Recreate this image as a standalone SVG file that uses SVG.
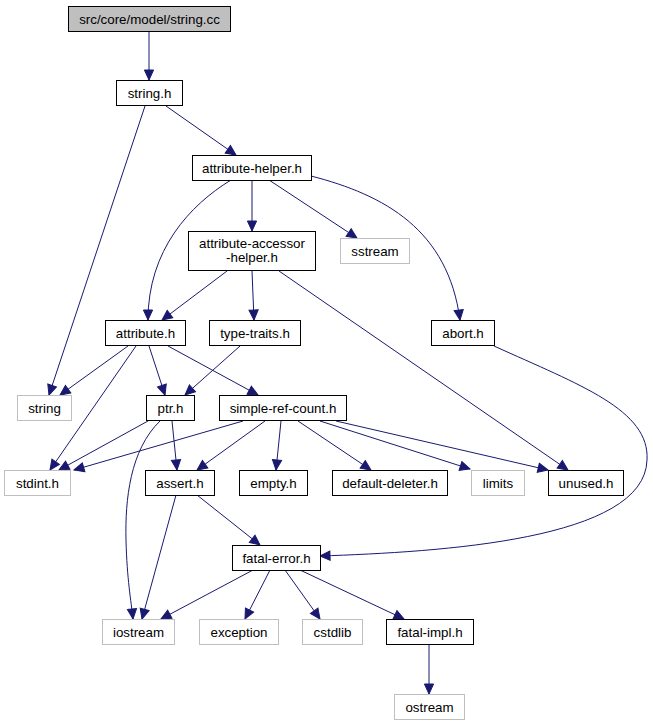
<svg xmlns="http://www.w3.org/2000/svg" width="653" height="725" viewBox="0 0 653 725">
<style>
.n rect{fill:#ffffff;stroke:#000000;stroke-width:1}
.n.ext rect{stroke:#bfbfbf}
.n.root rect{fill:#bfbfbf}
.n text{font-family:"Liberation Sans",Arial,sans-serif;font-size:13.33px;fill:#000000;text-anchor:middle}
#edges path{fill:none;stroke:#191970;stroke-width:1;marker-end:url(#ah)}
</style>
<defs>
<marker id="ah" markerUnits="userSpaceOnUse" markerWidth="13" markerHeight="12" viewBox="-1 -6 13 12" refX="10" refY="0" orient="auto">
<path d="M0,-4.6 L10,0 L0,4.6 z" fill="#191970" stroke="#191970" stroke-width="1"/>
</marker>
</defs>
<rect width="653" height="725" fill="#ffffff"/>
<g id="edges">
<path d="M149,31 L149,80"/>
<path d="M166,106 L236,155"/>
<path d="M145,106 L49,395"/>
<path d="M252,180 L252,231"/>
<path d="M231,180 C190,205 148,250 148,320"/>
<path d="M269,180 L357,238"/>
<path d="M311,176 C385,195 448,230 460,320"/>
<path d="M227,271 L162,320"/>
<path d="M252,271 L254,320"/>
<path d="M279,271 L568,470"/>
<path d="M128,346 L60,395"/>
<path d="M136,346 L50,470"/>
<path d="M149,346 L165,395"/>
<path d="M168,346 L258,395"/>
<path d="M240,346 L185,395"/>
<path d="M148,421 L59,470"/>
<path d="M172,421 L177,470"/>
<path d="M160,421 C130,450 125,500 126,540 C127,580 131,600 133,619"/>
<path d="M243,421 L74,470"/>
<path d="M265,421 L197,470"/>
<path d="M281,421 L276,470"/>
<path d="M298,421 L371,470"/>
<path d="M320,421 L470,469"/>
<path d="M336,421 L548,470"/>
<path d="M494,346 C580,385 650,410 647,460 C645,540 440,552 320,556"/>
<path d="M197,495 L260,545"/>
<path d="M176,495 L142,619"/>
<path d="M253,570 L161,619"/>
<path d="M270,570 L245,619"/>
<path d="M285,570 L320,619"/>
<path d="M300,570 L404,619"/>
<path d="M429,644 L429,694"/>
</g>
<g id="n_root" class="n root"><rect x="68.5" y="6.5" width="162" height="25"/><text x="149.5" y="23.5">src/core/model/string.cc</text></g>
<g id="n_string_h" class="n"><rect x="116.5" y="80.5" width="66" height="25"/><text x="149.5" y="97.5">string.h</text></g>
<g id="n_attribute_helper" class="n"><rect x="192.5" y="155.5" width="119" height="25"/><text x="252" y="172.5">attribute-helper.h</text></g>
<g id="n_attribute_accessor_helper" class="n"><rect x="188.5" y="231.5" width="127" height="39"/><text x="252" y="248">attribute-accessor</text><text x="252" y="262">-helper.h</text></g>
<g id="n_attribute_h" class="n"><rect x="105.5" y="320.5" width="80" height="25"/><text x="145.5" y="337.5">attribute.h</text></g>
<g id="n_type_traits" class="n"><rect x="209.5" y="320.5" width="91" height="25"/><text x="255" y="337.5">type-traits.h</text></g>
<g id="n_sstream" class="n ext"><rect x="340.5" y="238.5" width="69" height="25"/><text x="375" y="255.5">sstream</text></g>
<g id="n_abort" class="n"><rect x="431.5" y="320.5" width="63" height="25"/><text x="463" y="337.5">abort.h</text></g>
<g id="n_string" class="n ext"><rect x="17.5" y="395.5" width="54" height="25"/><text x="44.5" y="412.5">string</text></g>
<g id="n_ptr" class="n"><rect x="146.5" y="395.5" width="48" height="25"/><text x="170.5" y="412.5">ptr.h</text></g>
<g id="n_simple_ref_count" class="n"><rect x="219.5" y="395.5" width="127" height="25"/><text x="283" y="412.5">simple-ref-count.h</text></g>
<g id="n_stdint" class="n ext"><rect x="4.5" y="470.5" width="66" height="25"/><text x="37.5" y="487.5">stdint.h</text></g>
<g id="n_assert" class="n"><rect x="145.5" y="470.5" width="69" height="25"/><text x="180" y="487.5">assert.h</text></g>
<g id="n_empty" class="n"><rect x="239.5" y="470.5" width="68" height="25"/><text x="273.5" y="487.5">empty.h</text></g>
<g id="n_default_deleter" class="n"><rect x="332.5" y="470.5" width="115" height="25"/><text x="390" y="487.5">default-deleter.h</text></g>
<g id="n_limits" class="n ext"><rect x="471.5" y="470.5" width="53" height="25"/><text x="498" y="487.5">limits</text></g>
<g id="n_unused" class="n"><rect x="548.5" y="470.5" width="75" height="25"/><text x="586" y="487.5">unused.h</text></g>
<g id="n_fatal_error" class="n"><rect x="232.5" y="545.5" width="88" height="25"/><text x="276.5" y="562.5">fatal-error.h</text></g>
<g id="n_iostream" class="n ext"><rect x="102.5" y="619.5" width="72" height="25"/><text x="138.5" y="636.5">iostream</text></g>
<g id="n_exception" class="n ext"><rect x="199.5" y="619.5" width="79" height="25"/><text x="239" y="636.5">exception</text></g>
<g id="n_cstdlib" class="n ext"><rect x="302.5" y="619.5" width="60" height="25"/><text x="332.5" y="636.5">cstdlib</text></g>
<g id="n_fatal_impl" class="n"><rect x="386.5" y="619.5" width="87" height="25"/><text x="430" y="636.5">fatal-impl.h</text></g>
<g id="n_ostream" class="n ext"><rect x="394.5" y="694.5" width="70" height="25"/><text x="429.5" y="711.5">ostream</text></g>
</svg>
